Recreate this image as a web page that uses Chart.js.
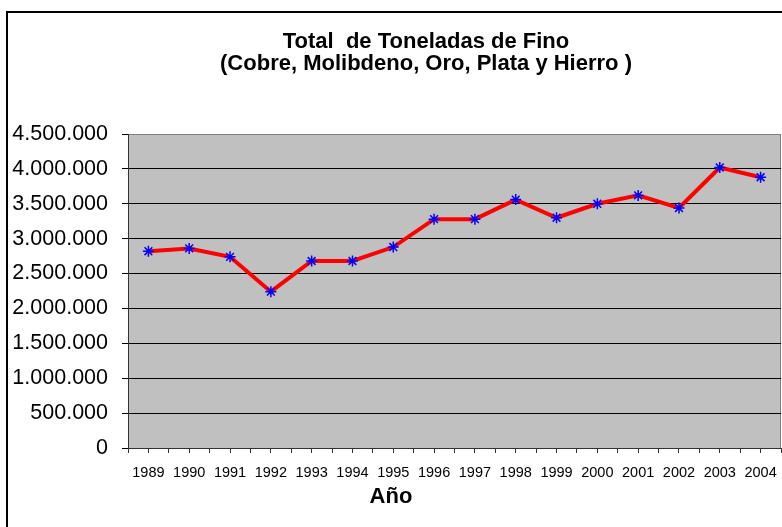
<!DOCTYPE html>
<html>
<head>
<meta charset="utf-8">
<script src="https://cdn.jsdelivr.net/npm/chart.js@4.4.1/dist/chart.umd.min.js"></script>
<style>
  html, body { margin: 0; padding: 0; background: #fff; overflow: hidden; }
  #wrap { position: relative; width: 782px; height: 527px; overflow: hidden; }
  #frame { position: absolute; left: 6px; top: 11px; width: 900px; height: 700px; border: 2px solid #000; pointer-events: none; }
  canvas { position: absolute; left: 0; top: 0; }
</style>
</head>
<body>
<div id="wrap">
  <canvas id="chart" width="782" height="527"></canvas>
  <div id="frame"></div>
</div>
<script>
const years = [1989, 1990, 1991, 1992, 1993, 1994, 1995, 1996, 1997, 1998, 1999, 2000, 2001, 2002, 2003, 2004];
const toneladas = [2820000, 2860000, 2740000, 2240000, 2680000, 2680000, 2880000, 3280000,
                   3280000, 3560000, 3300000, 3500000, 3620000, 3440000, 4020000, 3880000];
const titleLines = ["Total  de Toneladas de Fino", "(Cobre, Molibdeno, Oro, Plata y Hierro )"];
const xTitle = "Año";
const yMax = 4500000;
const yStep = 500000;

const FONT = "'Liberation Sans', Arial, sans-serif";

function puntos(v) {
  return String(v).replace(/\B(?=(\d{3})+(?!\d))/g, ".");
}

// plot background, plot border and the texts placed like the original
const decor = {
  id: "decor",
  beforeDraw(chart) {
    const { ctx, chartArea: a } = chart;
    ctx.save();
    ctx.fillStyle = "#c0c0c0";
    ctx.fillRect(a.left, a.top, a.right - a.left, a.bottom - a.top);
    ctx.strokeStyle = "#808080";
    ctx.lineWidth = 1;
    ctx.strokeRect(a.left + 0.5, a.top + 0.5, a.right - a.left - 1, a.bottom - a.top);
    ctx.restore();
  },
  afterDraw(chart) {
    const ctx = chart.ctx;
    ctx.save();
    ctx.fillStyle = "#000";
    ctx.textAlign = "center";
    ctx.textBaseline = "middle";
    ctx.font = "bold 22px " + FONT;
    ctx.fillText(titleLines[0], 426, 42);
    ctx.fillText(titleLines[1], 426, 64);
    ctx.fillText(xTitle, 391, 497);
    ctx.restore();
  },
};

new Chart(document.getElementById("chart"), {
  type: "line",
  data: {
    datasets: [
      {
        data: years.map((y, i) => ({ x: y, y: toneladas[i] })),
        borderColor: "#ff0000",
        borderWidth: 4,
        tension: 0,
        pointStyle: "star",
        pointRadius: 5.5,
        pointBorderColor: "#0000ff",
        pointBackgroundColor: "#0000ff",
        pointBorderWidth: 1.5,
      },
    ],
  },
  plugins: [decor],
  options: {
    responsive: false,
    animation: false,
    layout: { autoPadding: false, padding: { top: 134, right: 1, bottom: 0, left: 0 } },
    plugins: {
      legend: { display: false },
      tooltip: { enabled: false },
    },
    scales: {
      x: {
        type: "linear",
        min: 1988.5,
        max: 2004.5,
        ticks: {
          stepSize: 0.5,
          maxTicksLimit: 40,
          autoSkip: false,
          maxRotation: 0,
          minRotation: 0,
          color: "#000",
          padding: 11,
          font: { family: FONT, size: 14.5 },
          callback: (v) => (Number.isInteger(v) ? String(v) : ""),
        },
        grid: { drawOnChartArea: false, tickLength: 5, tickColor: "#333" },
        border: { color: "#333", width: 1 },
        afterFit: (s) => {
          s.height = 79;
          s.paddingLeft = 0;
          s.paddingRight = 0;
        },
      },
      y: {
        min: 0,
        max: yMax,
        ticks: {
          stepSize: yStep,
          color: "#000",
          padding: 14,
          font: { family: FONT, size: 21.5 },
          callback: (v) => puntos(v),
        },
        grid: {
          color: (c) => (c.tick && c.tick.value === yMax ? "#808080" : "#000"),
          tickColor: "#000",
          tickLength: 6,
        },
        border: { color: "#333", width: 1 },
        afterFit: (s) => { s.width = 128; },
      },
    },
  },
});
</script>
</body>
</html>
